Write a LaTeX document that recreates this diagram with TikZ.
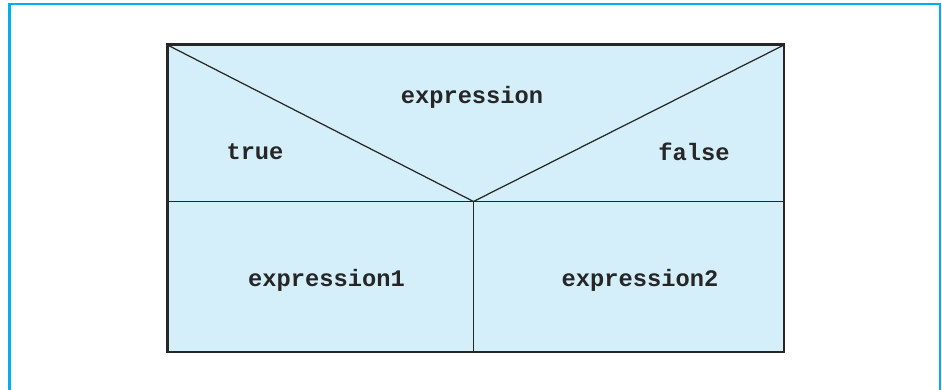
\documentclass[tikz,border=0pt]{standalone}
\usepackage{fontspec}
\setmonofont{Liberation Mono}
\definecolor{framecyan}{RGB}{0,174,239}
\definecolor{cellblue}{RGB}{212,238,250}
\tikzset{
	label/.style={font=\fontsize{13.5}{16}\selectfont\ttfamily\bfseries, text=black!85}
}
\begin{document}
\begin{tikzpicture}
	\useasboundingbox (0,0) rectangle (18.84,7.8);
	\draw[framecyan, line width=1.6pt] (0.19,0) -- (0.19,7.72) -- (18.8,7.72) -- (18.8,0);

	\coordinate (TL) at (3.35,6.9);
	\coordinate (TR) at (15.68,6.9);
	\coordinate (BL) at (3.35,0.76);
	\coordinate (V) at (9.47,3.77);
	\coordinate (ML) at (3.35,3.77);
	\coordinate (MR) at (15.68,3.77);
	\coordinate (VB) at (9.47,0.76);

	\fill[cellblue] (BL) rectangle (TR);
	\draw[black!85, line width=0.7pt] (TL) -- (V) -- (TR);
	\draw[black!85, line width=0.7pt] (ML) -- (MR);
	\draw[black!85, line width=0.7pt] (V) -- (VB);
	\draw[black!85, line width=1.7pt] (BL) rectangle (TR);

	\node[label] (cond) at (9.44,5.86) {expression};
	\node[label] (yes) at (5.1,4.76) {true};
	\node[label] (no) at (13.88,4.76) {false};
	\node[label] (exA) at (6.53,2.2) {expression1};
	\node[label] (exB) at (12.8,2.2) {expression2};
\end{tikzpicture}
\end{document}
